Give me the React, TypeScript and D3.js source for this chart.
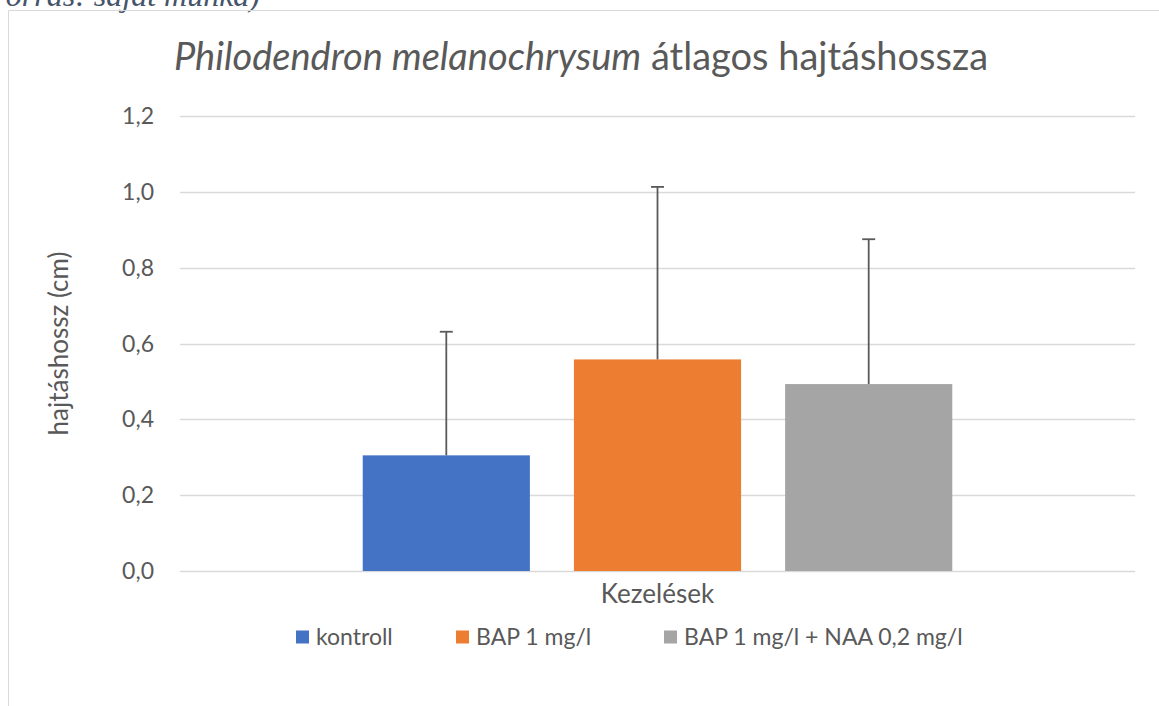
import React, { useRef, useEffect } from 'react';
import * as d3 from 'd3';

// adatok
const category = 'Kezelések';
const series = ['kontroll', 'BAP 1 mg/l', 'BAP 1 mg/l + NAA 0,2 mg/l'];
const means = [0.305, 0.558, 0.493];
const errors = [0.326, 0.455, 0.382];
const colors = ['#4472C4', '#ED7D31', '#A5A5A5'];
const yTicks = [0, 0.2, 0.4, 0.6, 0.8, 1.0, 1.2];
const legendX = [296, 456, 664];

const FONT = 'Lato, "Open Sans", sans-serif';
const TEXT = '#595959';

const App: React.FC = () => {
  const svgRef = useRef<SVGSVGElement | null>(null);

  useEffect(() => {
    if (!svgRef.current) return;
    const W = 1159;
    const H = 706;
    const plot = { left: 180, right: 1135, top: 116, bottom: 571 };

    const svg = d3.select(svgRef.current);
    svg.selectAll('*').remove();
    svg.attr('width', W).attr('height', H).style('background', '#fff');

    // forrás szöveg (felül levágva, mint az eredetin)
    svg
      .append('text')
      .attr('x', 260)
      .attr('y', 6)
      .attr('text-anchor', 'end')
      .style('font-family', '"Liberation Serif", serif')
      .style('font-style', 'italic')
      .style('font-size', '32px')
      .attr('fill', '#44546A')
      .text('(Forrás: saját munka)');

    // diagram keret
    svg
      .append('path')
      .attr('d', `M8.5,${H} V10.5 H${W}`)
      .attr('fill', 'none')
      .attr('stroke', '#D9D9D9')
      .attr('stroke-width', 1);

    // skálák
    const x0 = d3
      .scaleBand()
      .domain([category])
      .range([plot.left, plot.right])
      .padding(0.2366);
    const x1 = d3
      .scaleBand()
      .domain(series)
      .range([0, x0.bandwidth()])
      .paddingInner(0.2085)
      .paddingOuter(0);
    const y = d3.scaleLinear().domain([0, 1.2]).range([plot.bottom, plot.top]);

    // rácsvonalak
    svg
      .append('g')
      .selectAll('line')
      .data(yTicks)
      .enter()
      .append('line')
      .attr('x1', plot.left)
      .attr('x2', plot.right)
      .attr('y1', (d) => Math.round(y(d)) + 0.5)
      .attr('y2', (d) => Math.round(y(d)) + 0.5)
      .attr('stroke', '#D9D9D9')
      .attr('stroke-width', 1.3);

    // y tengely feliratok
    svg
      .append('g')
      .selectAll('text')
      .data(yTicks)
      .enter()
      .append('text')
      .attr('x', 154)
      .attr('y', (d) => y(d))
      .attr('dy', '0.35em')
      .attr('text-anchor', 'end')
      .style('font-family', FONT)
      .style('font-size', '23px')
      .attr('fill', TEXT)
      .text((d) => d3.format('.1f')(d).replace('.', ','));

    // oszlopok
    const bx = (i: number) => x0(category)! + x1(series[i])!;
    svg
      .append('g')
      .selectAll('rect')
      .data(means)
      .enter()
      .append('rect')
      .attr('x', (_, i) => bx(i))
      .attr('y', (d) => y(d))
      .attr('width', x1.bandwidth())
      .attr('height', (d) => y(0) - y(d))
      .attr('fill', (_, i) => colors[i]);

    // hibasávok
    const eg = svg.append('g').attr('stroke', '#5A5A5A').attr('stroke-width', 1.8);
    means.forEach((m, i) => {
      const cx = bx(i) + x1.bandwidth() / 2;
      eg.append('line')
        .attr('x1', cx)
        .attr('x2', cx)
        .attr('y1', y(m))
        .attr('y2', y(m + errors[i]));
      eg.append('line')
        .attr('x1', cx - 6.5)
        .attr('x2', cx + 6.5)
        .attr('y1', y(m + errors[i]))
        .attr('y2', y(m + errors[i]));
    });

    // cím
    const title = svg
      .append('text')
      .attr('x', 581)
      .attr('y', 70)
      .attr('text-anchor', 'middle')
      .style('font-family', FONT)
      .style('font-size', '38px')
      .attr('fill', TEXT);
    title.append('tspan').style('font-style', 'italic').text('Philodendron melanochrysum');
    title.append('tspan').text(' átlagos hajtáshossza');

    // x tengely cím
    svg
      .append('text')
      .attr('x', (plot.left + plot.right) / 2)
      .attr('y', 603)
      .attr('text-anchor', 'middle')
      .style('font-family', FONT)
      .style('font-size', '26px')
      .attr('fill', TEXT)
      .text(category);

    // y tengely cím
    svg
      .append('text')
      .attr('transform', `translate(68, ${(plot.top + plot.bottom) / 2}) rotate(-90)`)
      .attr('text-anchor', 'middle')
      .style('font-family', FONT)
      .style('font-size', '26px')
      .attr('fill', TEXT)
      .text('hajtáshossz (cm)');

    // jelmagyarázat
    const lg = svg
      .append('g')
      .selectAll('g')
      .data(series)
      .enter()
      .append('g')
      .attr('transform', (_, i) => `translate(${legendX[i]}, 637)`);
    lg.append('rect')
      .attr('x', 0)
      .attr('y', -6.5)
      .attr('width', 13)
      .attr('height', 13)
      .attr('fill', (_, i) => colors[i]);
    lg.append('text')
      .attr('x', 20)
      .attr('y', 0)
      .attr('dy', '0.35em')
      .style('font-family', FONT)
      .style('font-size', '23px')
      .attr('fill', TEXT)
      .text((d) => d);
  }, []);

  return <svg ref={svgRef} style={{ position: 'absolute', left: 0, top: 0 }} />;
};

export default App;
